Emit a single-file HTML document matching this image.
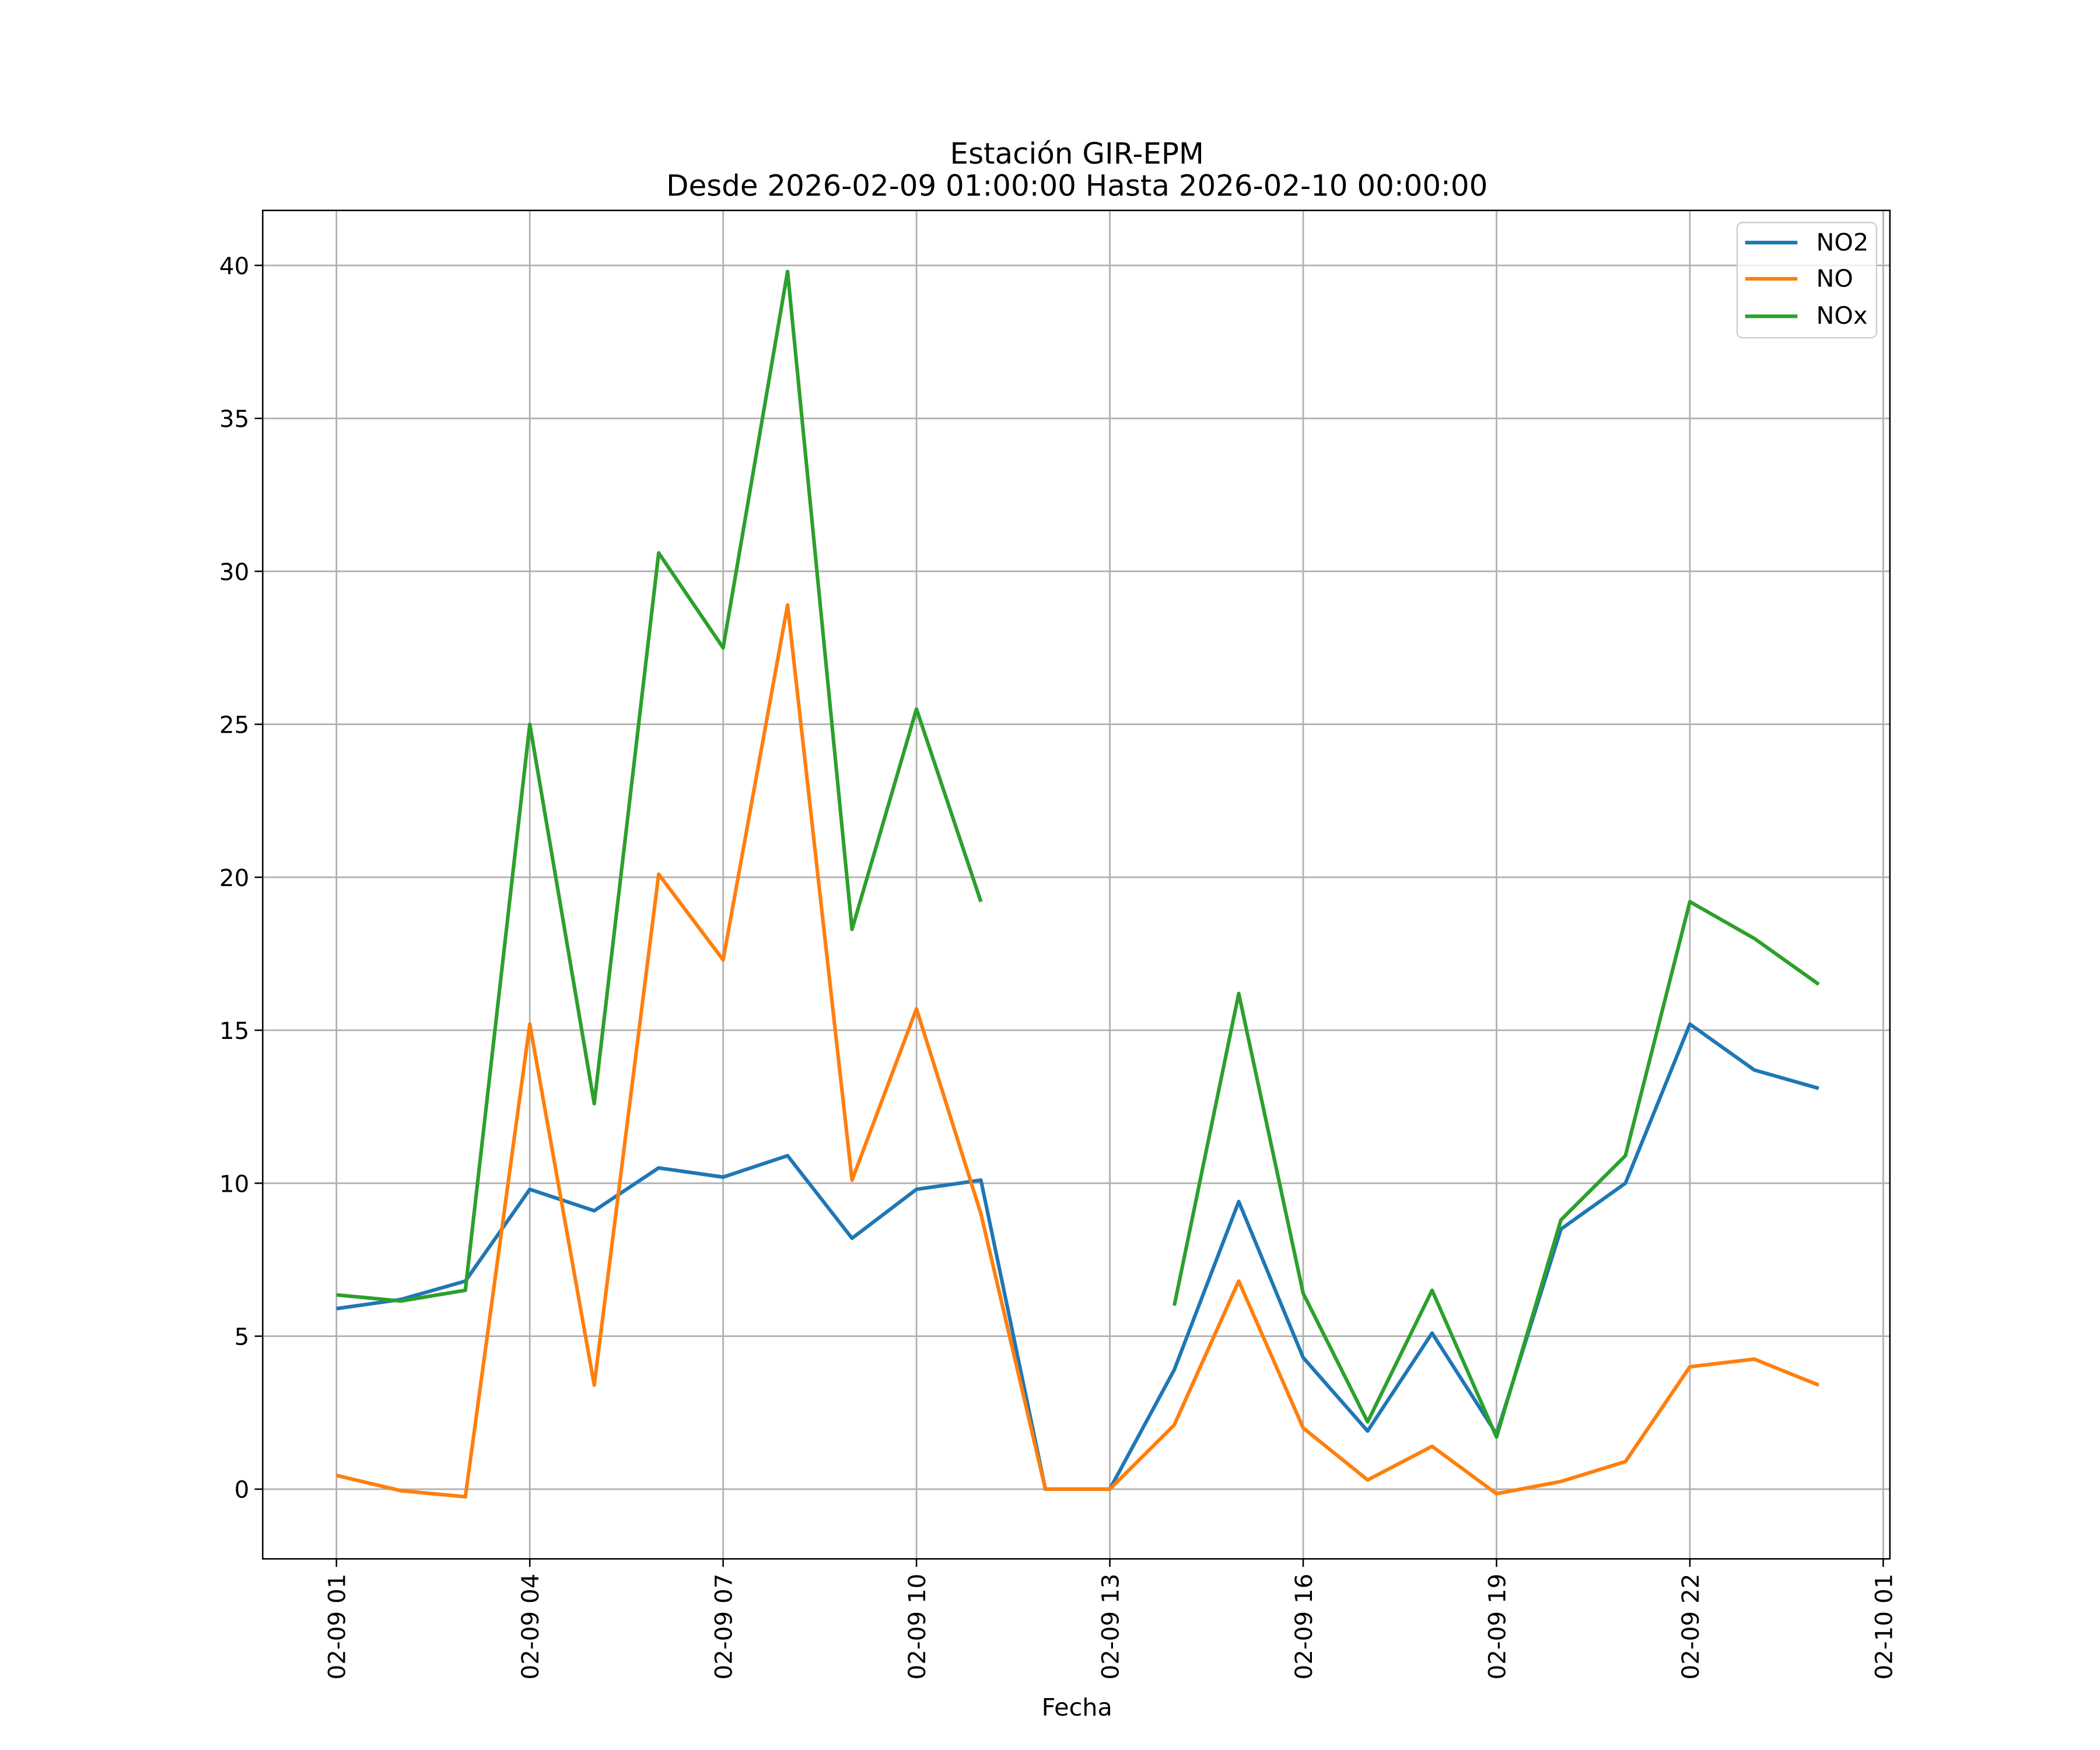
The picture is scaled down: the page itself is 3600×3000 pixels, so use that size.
<!DOCTYPE html>
<html><head><meta charset="utf-8"><style>html,body{margin:0;padding:0;background:#fff}svg{display:block}text{font-family:"DejaVu Sans","Liberation Sans",sans-serif;fill:#000}</style></head>
<body>
<svg id="chart" width="3600" height="3000" viewBox="0 0 1560 1300" xmlns="http://www.w3.org/2000/svg">
<rect width="1560" height="1300" fill="#fff"/>
<g transform="scale(0.9957)">
<g id="grid"></g>
<g id="series"></g>
<rect x="196" y="157" width="1214" height="1006" fill="none" stroke="#000" stroke-width="1.1"/>
<g id="ticks"></g>
<text x="803.5" y="122" font-size="21.7" text-anchor="middle">Estación GIR-EPM</text>
<text x="803.5" y="146" font-size="21.7" text-anchor="middle">Desde 2026-02-09 01:00:00 Hasta 2026-02-10 00:00:00</text>
<text x="803.5" y="1280" font-size="18" text-anchor="middle">Fecha</text>
<g>
<rect x="1296" y="166" width="104" height="86" rx="4" fill="#fff" fill-opacity="0.8" stroke="#ccc" stroke-width="1"/>
<line x1="1302" y1="181" x2="1341" y2="181" stroke="#1f77b4" stroke-width="2.7"/>
<text x="1355" y="187" font-size="18">NO2</text>
<line x1="1302" y1="208" x2="1341" y2="208" stroke="#ff7f0e" stroke-width="2.7"/>
<text x="1355" y="214" font-size="18">NO</text>
<line x1="1302" y1="236" x2="1341" y2="236" stroke="#2ca02c" stroke-width="2.7"/>
<text x="1355" y="241.5" font-size="18">NOx</text>
</g>
</g>
</svg>
<script>
const hours = [0,1,2,3,4,5,6,7,8,9,10,11,12,13,14,15,16,17,18,19,20,21,22,23];
const no2 = [5.9,6.2,6.8,9.8,9.1,10.5,10.2,10.9,8.2,9.8,10.1,0,0,3.9,9.4,4.3,1.9,5.1,1.8,8.5,10.0,15.2,13.7,13.1];
const no = [0.45,-0.05,-0.25,15.2,3.4,20.1,17.3,28.9,10.1,15.7,9.0,0,0,2.1,6.8,2.0,0.3,1.4,-0.15,0.25,0.9,4.0,4.25,3.4];
const nox = [6.35,6.15,6.5,25.0,12.6,30.6,27.5,39.8,18.3,25.5,19.2,null,null,6.0,16.2,6.4,2.2,6.5,1.7,8.8,10.9,19.2,18.0,16.5];
const yTicks = [0,5,10,15,20,25,30,35,40];
const xTickHours = [0,3,6,9,12,15,18,21,24];
const xTickLabels = ["02-09 01","02-09 04","02-09 07","02-09 10","02-09 13","02-09 16","02-09 19","02-09 22","02-10 01"];
const NS="http://www.w3.org/2000/svg";
const L=196,R=1410,T=157,B=1163;
function xs(h){return 251+h*(1405-251)/24;}
function ys(v){return 1111-v*(1111-198)/40;}
function mk(t,a,p){const e=document.createElementNS(NS,t);for(const k in a)e.setAttribute(k,a[k]);p.appendChild(e);return e;}
const grid=document.getElementById('grid'),ticks=document.getElementById('ticks'),ser=document.getElementById('series');
yTicks.forEach(v=>{const y=ys(v);
const g=mk('line',{x1:L,x2:R,y1:y,y2:y,stroke:'#b0b0b0','stroke-width':1.2},grid);


mk('line',{x1:L-6,x2:L,y1:y,y2:y,stroke:'#000','stroke-width':1.1},ticks);
const t=mk('text',{x:L-10,y:y+6.5,'font-size':17.6,'text-anchor':'end'},ticks);t.textContent=v;

});
xTickHours.forEach((h,i)=>{const x=xs(h);
const g=mk('line',{x1:x,x2:x,y1:T,y2:B,stroke:'#b0b0b0','stroke-width':1.2},grid);


mk('line',{x1:x,x2:x,y1:B,y2:B+6,stroke:'#000','stroke-width':1.1},ticks);
const t=mk('text',{x:0,y:0,'font-size':17.6,'text-anchor':'end',transform:`translate(${x+6.5},${B+11}) rotate(-90)`},ticks);t.textContent=xTickLabels[i];

});
function draw(vals,color,name){let d='',pen=false;vals.forEach((v,i)=>{if(v===null){pen=false;return;}d+=(pen?'L':'M')+xs(hours[i]).toFixed(2)+' '+ys(v).toFixed(2)+' ';pen=true;});
const p=mk('path',{d:d,fill:'none',stroke:color,'stroke-width':2.7,'stroke-linejoin':'round'},ser);

}
draw(no2,'#1f77b4','line-no2');draw(no,'#ff7f0e','line-no');draw(nox,'#2ca02c','line-nox');
</script>
</body></html>
